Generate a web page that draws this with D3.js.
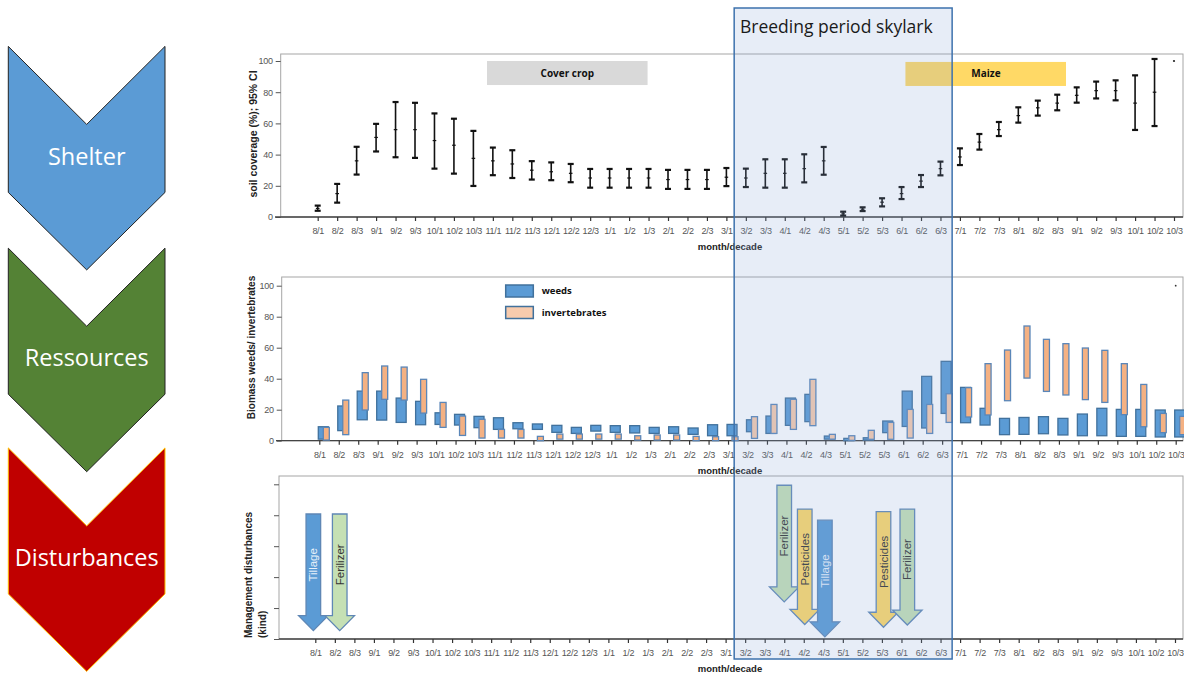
<!DOCTYPE html>
<html><head><meta charset="utf-8">
<script src="https://cdn.jsdelivr.net/npm/d3@7"></script>
<style>body{margin:0;background:#fff} svg{display:block}</style>
</head><body><svg id="c" width="1184" height="675"></svg>
<script>
const categories = ["8/1","8/2","8/3","9/1","9/2","9/3","10/1","10/2","10/3","11/1","11/2","11/3","12/1","12/2","12/3","1/1","1/2","1/3","2/1","2/2","2/3","3/1","3/2","3/3","4/1","4/2","4/3","5/1","5/2","5/3","6/1","6/2","6/3","7/1","7/2","7/3","8/1","8/2","8/3","9/1","9/2","9/3","10/1","10/2","10/3"];
// soil coverage (%) mean and 95% CI
const coverMean = [5.5,15,36,51,56,56,49,46,37.6,36,34,30,29,28,25,25,25,25,24,24,24,25.5,25,28,28,31,36,2,5,9.5,15,23,31,38.5,48,56,65,70,73,78,81,81,73,80,100];
const coverLow  = [4,9.2,27.2,42,38.3,37.9,31,27.8,19.9,26.8,25,24,23.6,22.3,18.8,18.8,18.8,18.8,18,18,18,19.8,19.2,18.8,18.8,22.2,27.1,0.9,3.8,6.8,11.5,19.2,26.7,33.3,43.2,51.9,60.5,65,68.4,73.3,76,74.8,55.8,58.3,100];
const coverHigh = [7.3,21.2,45,59.7,73.7,73.2,66.4,63,55.2,44.5,42.8,35.8,35,34,30.8,30.8,30.8,30.8,30.2,30.2,30.2,31.4,31,37,37,40.2,44.9,3.4,6.2,12,19.2,26.9,35.5,44,53.2,60.9,70.3,74.6,78.4,83.1,86.8,87.6,90.8,101.3,100];
// biomass ranges
const weedsLow  = [1,6.5,13.5,13.3,11.8,10.3,10.5,10.1,8.4,7.3,7.7,7.3,5.4,4.7,6.2,5.4,5,4.7,4.7,4.1,3.2,3.2,5.8,4.7,9.9,12.3,1,0,0.4,5.2,9.2,8.2,17.6,11.6,10.1,3.9,4.1,4.5,3.7,3.2,3.2,2.8,2.8,2.4,2.4];
const weedsHigh = [9,22.4,32,32,27.5,25.4,18,17,15.7,14.8,11.6,10.8,9.9,8.6,9.9,9.7,9.7,8.6,9,8.2,10.3,10.5,13.5,15.9,27.5,29.9,3,1.5,1.9,12.7,32,41.5,51.2,34.4,20.9,14.4,15,15.5,14.4,17.2,20.9,20.2,20.2,19.8,19.8];
const invLow    = [0.4,3.9,19.8,26.7,26.2,17.8,8.6,3.4,1.7,1.7,1.7,0,1,1,1,1,0.4,0.4,0.4,0,0,0,1.5,4.7,7.3,9.7,1,0.2,0.9,0.9,1.7,4.7,11.8,15.3,16.6,25.8,40.4,31.8,29.5,26.5,24.7,16.8,9,5.2,3.9];
const invHigh   = [8.6,26.2,43.9,48.2,47.5,39.6,24.7,15.9,13.8,7.3,7.3,2.8,4.3,4.3,4.3,4.3,3.2,3.7,3.7,2.8,2.6,2.6,15.5,23.4,26.7,39.6,4.1,3.2,6.7,11.8,20.2,23.4,30.3,34.2,49.7,58.5,74,65.4,62.6,59.8,58.3,49.7,36.3,17.6,15.7];
const yTicks = [0,20,40,60,80,100];
const disturbTicks = [0,1,2,3,4,5];
// management disturbances: kind, category position, arrow top and tip (kind units)
const disturbKind = ["Tillage","Ferilizer","Ferilizer","Pesticides","Tillage","Pesticides","Ferilizer"];
const disturbPos  = [-0.1,1.25,24,25.05,26.08,29.08,30.3];
const disturbTop  = [4.04,4.04,4.97,4.2,3.84,4.12,4.2];
const disturbTip  = [0.27,0.27,1.2,0.47,0.07,0.38,0.45];
const chevronLabels = ["Shelter","Ressources","Disturbances"];
const breedingSpan = [21.4,32.6];
const coverCropSpan = [8.7,16.95];
const maizeSpan = [30.2,38.45];

const svg = d3.select("#c");
svg.append("rect").attr("width",1184).attr("height",675).attr("fill","#fff");

const tickFont = "'Liberation Sans Narrow','Arial Narrow','Liberation Sans',sans-serif";
const boldFont = "'Liberation Sans',Arial,sans-serif";

// ---------- chevrons ----------
const chevFill = ["#5b9bd5","#548235","#c00000"];
const chevStroke = ["#222","#222","#ffc000"];
const chevTop = [46.4,248.2,447.9];
const chevGeom = {x0:8.3,x1:165,xm:86.7,notch:78,body:146,tip:223.5};
chevronLabels.forEach((lab,k)=>{
  const t = chevTop[k], g = chevGeom;
  const pts = [[g.x0,t],[g.xm,t+g.notch],[g.x1,t],[g.x1,t+g.body],[g.xm,t+g.tip],[g.x0,t+g.body]];
  svg.append("polygon").attr("points",pts.map(p=>p.join(",")).join(" "))
    .attr("fill",chevFill[k]).attr("stroke",chevStroke[k]).attr("stroke-width",1);
  svg.append("text").attr("x",g.xm).attr("y",t+112).attr("text-anchor","middle")
    .attr("dominant-baseline","middle").attr("fill","#fff")
    .attr("font-family","'Open Sans',sans-serif").attr("font-size",23.5).text(lab);
});

function xAxis(g, x, y0, titleY){
  const ax = d3.axisBottom(x).tickValues(d3.range(categories.length))
    .tickFormat(i=>categories[i]).tickSizeInner(4).tickSizeOuter(0).tickPadding(7);
  const gg = g.append("g").attr("transform",`translate(0,${y0})`).call(ax);
  gg.select(".domain").remove();
  gg.selectAll(".tick line").attr("stroke","#333").attr("stroke-width",1.2);
  gg.selectAll(".tick text").attr("font-family",tickFont).attr("font-size",9).attr("letter-spacing",-0.3).attr("fill","#555");
  g.append("text").attr("x",730).attr("y",titleY).attr("text-anchor","middle")
    .attr("font-family",boldFont).attr("font-weight","bold").attr("font-size",9.5).attr("fill","#222").text("month/decade");
}

// ---------- TOP: soil coverage ----------
const xTop = d3.scaleLinear().domain([0,categories.length-1]).range([317.7,1174]);
const yTop = d3.scaleLinear().domain([0,100]).range([217,61]);
const gTop = svg.append("g");
gTop.append("rect").attr("x",280.7).attr("y",54).attr("width",1183-280.7).attr("height",217-54)
  .attr("fill","none").attr("stroke","#a6a6a6");
// cover crop & maize boxes
gTop.append("rect").attr("x",xTop(coverCropSpan[0])).attr("y",yTop(100)).attr("width",xTop(coverCropSpan[1])-xTop(coverCropSpan[0]))
  .attr("height",yTop(84.6)-yTop(100)).attr("fill","#d9d9d9");
gTop.append("text").attr("x",(xTop(coverCropSpan[0])+xTop(coverCropSpan[1]))/2).attr("y",yTop(92.3)).attr("dy","0.35em")
  .attr("text-anchor","middle").attr("font-family","'Open Sans',sans-serif").attr("font-weight","bold").attr("font-size",10).attr("fill","#111").text("Cover crop");
gTop.append("rect").attr("x",xTop(maizeSpan[0])).attr("y",yTop(99.4)).attr("width",xTop(maizeSpan[1])-xTop(maizeSpan[0]))
  .attr("height",yTop(84)-yTop(99.4)).attr("fill","#ffd966");
gTop.append("text").attr("x",986).attr("y",yTop(91.7)).attr("dy","0.35em")
  .attr("text-anchor","middle").attr("font-family","'Open Sans',sans-serif").attr("font-weight","bold").attr("font-size",10).attr("fill","#111").text("Maize");

const yaxTop = d3.axisLeft(yTop).tickValues(yTicks).tickSize(5).tickPadding(3);
const gy = gTop.append("g").attr("transform","translate(280.7,0)").call(yaxTop);
gy.select(".domain").remove();
gy.selectAll(".tick line").attr("stroke","#555");
gy.selectAll(".tick text").attr("font-family",tickFont).attr("font-size",9).attr("letter-spacing",-0.3).attr("fill","#555");
gTop.append("line").attr("x1",275).attr("x2",1183).attr("y1",217).attr("y2",217).attr("stroke","#444").attr("stroke-width",1.3);
xAxis(gTop,xTop,217,250);
gTop.append("text").attr("transform",`translate(257,${134}) rotate(-90)`).attr("text-anchor","middle")
  .attr("font-family",boldFont).attr("font-weight","bold").attr("font-size",10.5).attr("fill","#222").text("soil coverage (%); 95% CI");

const eb = gTop.append("g").selectAll("g").data(d3.range(categories.length)).join("g");
const hasRange = i => coverHigh[i] > coverLow[i];
eb.filter(hasRange).append("line").attr("x1",i=>xTop(i)).attr("x2",i=>xTop(i)).attr("y1",i=>yTop(coverLow[i])).attr("y2",i=>yTop(coverHigh[i]))
  .attr("stroke","#111").attr("stroke-width",1.6);
eb.filter(hasRange).append("line").attr("x1",i=>xTop(i)-3).attr("x2",i=>xTop(i)+3).attr("y1",i=>yTop(coverLow[i])).attr("y2",i=>yTop(coverLow[i]))
  .attr("stroke","#111").attr("stroke-width",2.2);
eb.filter(hasRange).append("line").attr("x1",i=>xTop(i)-3).attr("x2",i=>xTop(i)+3).attr("y1",i=>yTop(coverHigh[i])).attr("y2",i=>yTop(coverHigh[i]))
  .attr("stroke","#111").attr("stroke-width",2.2);
eb.filter(hasRange).append("line").attr("x1",i=>xTop(i)-1.8).attr("x2",i=>xTop(i)+1.8).attr("y1",i=>yTop(coverMean[i])).attr("y2",i=>yTop(coverMean[i]))
  .attr("stroke","#111").attr("stroke-width",1.2);
eb.filter(i=>!hasRange(i)).append("circle").attr("cx",i=>xTop(i)).attr("cy",i=>yTop(coverMean[i])).attr("r",1.1).attr("fill","#222");

// ---------- MIDDLE: biomass ----------
const xMid = d3.scaleLinear().domain([0,categories.length-1]).range([319.3,1175.7]);
const yMid = d3.scaleLinear().domain([0,100]).range([440.7,285.7]);
const gMid = svg.append("g");
gMid.append("rect").attr("x",281.7).attr("y",277).attr("width",1183-281.7).attr("height",440.7-277)
  .attr("fill","none").attr("stroke","#a6a6a6");
const yaxMid = d3.axisLeft(yMid).tickValues(yTicks).tickSize(5).tickPadding(3);
const gy2 = gMid.append("g").attr("transform","translate(281.7,0)").call(yaxMid);
gy2.select(".domain").remove();
gy2.selectAll(".tick line").attr("stroke","#555");
gy2.selectAll(".tick text").attr("font-family",tickFont).attr("font-size",9).attr("letter-spacing",-0.3).attr("fill","#555");
gMid.append("line").attr("x1",276).attr("x2",1183).attr("y1",440.7).attr("y2",440.7).attr("stroke","#444").attr("stroke-width",1.3);
xAxis(gMid,xMid,440.7,474);
gMid.append("text").attr("transform",`translate(255,${347.5}) rotate(-90)`).attr("text-anchor","middle")
  .attr("font-family",boldFont).attr("font-weight","bold").attr("font-size",10).attr("fill","#222").text("Biomass weeds/ invertebrates");

const inBreeding = i => i > breedingSpan[0] && i < breedingSpan[1];
const bars = gMid.append("g").selectAll("g").data(d3.range(categories.length)).join("g");
bars.append("rect").attr("x",i=>xMid(i)-1).attr("width",10)
  .attr("y",i=>yMid(weedsHigh[i])).attr("height",i=>Math.max(1,yMid(weedsLow[i])-yMid(weedsHigh[i])))
  .attr("fill","#5b9bd5").attr("stroke","#41719c").attr("stroke-width",1.3);
bars.append("rect").attr("x",i=>xMid(i)+4).attr("width",6)
  .attr("y",i=>yMid(invHigh[i])).attr("height",i=>Math.max(1,yMid(invLow[i])-yMid(invHigh[i])))
  .attr("fill",i=>inBreeding(i)?"#f8cbad":"#f4b183").attr("stroke","#5a86b8").attr("stroke-width",1.3);
gMid.append("circle").attr("cx",xMid(categories.length-1)).attr("cy",yMid(100)).attr("r",0.9).attr("fill","#333");

// legend
const legItems = [["weeds","#5b9bd5"],["invertebrates","#f8cbad"]];
legItems.forEach((d,k)=>{
  const y0 = 285 + k*21.5;
  gMid.append("rect").attr("x",505.7).attr("y",y0).attr("width",27.6).attr("height",12)
    .attr("fill",d[1]).attr("stroke","#41719c").attr("stroke-width",1.5);
  gMid.append("text").attr("x",541.7).attr("y",y0+6).attr("dy","0.35em")
    .attr("font-family","'Open Sans',sans-serif").attr("font-weight","bold").attr("font-size",9.5).attr("fill","#111").text(d[0]);
});

// ---------- BOTTOM: disturbances ----------
const xBot = d3.scaleLinear().domain([0,categories.length-1]).range([315.3,1175]);
const yBot = d3.scaleLinear().domain([0,5]).range([639,484.3]);
const gBot = svg.append("g");
gBot.append("rect").attr("x",279).attr("y",476).attr("width",1183-279).attr("height",639-476)
  .attr("fill","none").attr("stroke","#a6a6a6");
const yaxBot = d3.axisLeft(yBot).tickValues(disturbTicks).tickSize(5).tickFormat("");
const gy3 = gBot.append("g").attr("transform","translate(279,0)").call(yaxBot);
gy3.select(".domain").remove();
gy3.selectAll(".tick line").attr("stroke","#555");
gBot.append("line").attr("x1",279).attr("x2",1183).attr("y1",639).attr("y2",639).attr("stroke","#444").attr("stroke-width",1.3);
xAxis(gBot,xBot,639,672);
gBot.append("text").attr("transform",`translate(252,638) rotate(-90)`).attr("text-anchor","start")
  .attr("font-family",boldFont).attr("font-weight","bold").attr("font-size",10).attr("fill","#222").text("Management disturbances");
gBot.append("text").attr("transform",`translate(266,638) rotate(-90)`).attr("text-anchor","start")
  .attr("font-family",boldFont).attr("font-weight","bold").attr("font-size",10).attr("fill","#222").text("(kind)");

const kindFill = {Tillage:"#5b9bd5",Ferilizer:"#c5e0b4",Pesticides:"#ffd966"};
const kindText = {Tillage:"#e8f1fa",Ferilizer:"#333",Pesticides:"#333"};
const shaftW = 14.6, headW = 29.5, headH = 15;
disturbKind.forEach((k,i)=>{
  const cx = xBot(disturbPos[i]), yt = yBot(disturbTop[i]), yp = yBot(disturbTip[i]);
  const yh = yp - headH;
  const pts = [[cx-shaftW/2,yt],[cx+shaftW/2,yt],[cx+shaftW/2,yh],[cx+headW/2,yh],[cx,yp],[cx-headW/2,yh],[cx-shaftW/2,yh]];
  gBot.append("polygon").attr("points",pts.map(p=>p.join(",")).join(" "))
    .attr("fill",kindFill[k]).attr("stroke","#5f87b5").attr("stroke-width",1.3);
  gBot.append("text").attr("transform",`translate(${cx},${(yt+yh)/2}) rotate(-90)`).attr("text-anchor","middle")
    .attr("dy","0.35em").attr("font-family","'Liberation Sans',Arial,sans-serif").attr("font-size",11.5)
    .attr("fill",kindText[k]).text(k);
});

// ---------- breeding period overlay ----------
svg.append("rect").attr("x",xTop(breedingSpan[0])).attr("y",8).attr("width",xTop(breedingSpan[1])-xTop(breedingSpan[0])).attr("height",651)
  .attr("fill","rgb(135,165,215)").attr("fill-opacity",0.2).attr("stroke","#3d72ad").attr("stroke-width",1.5);
svg.append("text").attr("x",740).attr("y",33).attr("font-family","'Open Sans',sans-serif").attr("font-size",17.5)
  .attr("fill","#1a1a1a").text("Breeding period skylark");
</script></body></html>
